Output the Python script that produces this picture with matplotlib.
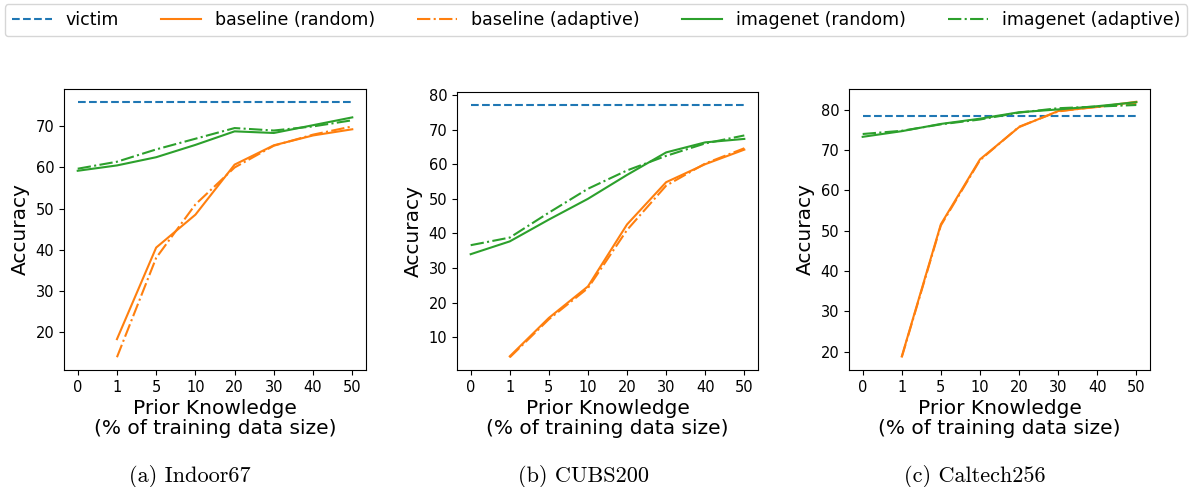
import matplotlib.pyplot as plt

# x positions are categorical: % of training data used as prior knowledge
pk_labels = ['0', '1', '5', '10', '20', '30', '40', '50']

# Indoor67
indoor_victim = 76.0
indoor_base_rand = [18.2, 40.5, 48.5, 60.7, 65.4, 67.8, 69.3]
indoor_base_adapt = [13.8, 38.0, 51.0, 60.0, 65.3, 68.0, 70.0]
indoor_inet_rand = [59.2, 60.5, 62.5, 65.5, 68.8, 68.4, 70.3, 72.2]
indoor_inet_adapt = [59.7, 61.4, 64.4, 67.0, 69.6, 69.0, 70.0, 71.5]

# CUBS200
cubs_victim = 77.2
cubs_base_rand = [4.5, 15.6, 24.7, 42.6, 54.8, 60.0, 64.2]
cubs_base_adapt = [4.2, 15.2, 24.2, 41.0, 53.8, 60.2, 64.6]
cubs_inet_rand = [34.0, 37.7, 44.0, 50.0, 56.9, 63.4, 66.3, 67.3]
cubs_inet_adapt = [36.6, 38.8, 46.0, 52.9, 58.2, 62.4, 66.0, 68.3]

# Caltech256
caltech_victim = 78.4
caltech_base_rand = [18.8, 51.6, 67.7, 75.7, 79.7, 80.7, 82.0]
caltech_base_adapt = [18.6, 51.3, 67.5, 75.8, 79.6, 80.8, 81.6]
caltech_inet_rand = [73.3, 74.7, 76.5, 77.8, 79.4, 80.1, 80.9, 81.9]
caltech_inet_adapt = [74.0, 74.8, 76.4, 77.6, 79.3, 80.4, 80.8, 81.2]

captions = ['(a) Indoor67', '(b) CUBS200', '(c) Caltech256']

datasets = [
    (indoor_victim, indoor_base_rand, indoor_base_adapt, indoor_inet_rand, indoor_inet_adapt),
    (cubs_victim, cubs_base_rand, cubs_base_adapt, cubs_inet_rand, cubs_inet_adapt),
    (caltech_victim, caltech_base_rand, caltech_base_adapt, caltech_inet_rand, caltech_inet_adapt),
]

W, H = 1195, 487
fig = plt.figure(figsize=(W / 100, H / 100), dpi=100)

# axes boxes in pixels: left, top, right, bottom
boxes = [(64, 89, 366, 370), (457, 92, 758, 370), (849, 89, 1150, 370)]
caption_x = [190, 583, 975]

x_all = list(range(len(pk_labels)))
x_base = x_all[1:]

for i, (box, data) in enumerate(zip(boxes, datasets)):
    l, t, r, b = box
    ax = fig.add_axes([l / W, 1 - b / H, (r - l) / W, (b - t) / H])
    victim, base_r, base_a, inet_r, inet_a = data
    ax.plot(x_all, [victim] * len(x_all), color='tab:blue', ls='--', lw=1.5, label='victim')
    ax.plot(x_base, base_r, color='tab:orange', ls='-', lw=1.5, label='baseline (random)')
    ax.plot(x_base, base_a, color='tab:orange', ls='-.', lw=1.5, label='baseline (adaptive)')
    ax.plot(x_all, inet_r, color='tab:green', ls='-', lw=1.5, label='imagenet (random)')
    ax.plot(x_all, inet_a, color='tab:green', ls='-.', lw=1.5, label='imagenet (adaptive)')
    ax.set_xticks(x_all)
    ax.set_xticklabels(pk_labels)
    ax.tick_params(labelsize=10.5)
    ax.set_ylabel('Accuracy', fontsize=14.5)
    ax.set_xlabel('Prior Knowledge\n(% of training data size)', fontsize=14.5, labelpad=3,
                  linespacing=1.05)
    fig.text(caption_x[i] / W, 1 - 476 / H, captions[i], ha='center', va='center',
             fontsize=16, family='cmr10')
    if i == 0:
        handles, labels = ax.get_legend_handles_labels()

fig.legend(handles, labels, loc='lower left', ncol=5, mode='expand',
           bbox_to_anchor=(5 / W, 1 - 36 / H, 1182 / W, 32 / H),
           fontsize=12.5, frameon=True, borderaxespad=0, handlelength=2.3)

fig.savefig('out.png', dpi=100)
